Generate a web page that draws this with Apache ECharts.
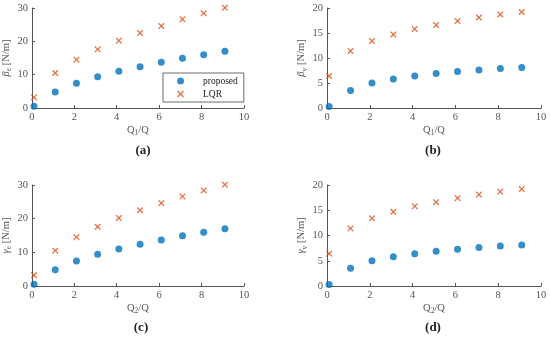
<!DOCTYPE html>
<html><head><meta charset="utf-8">
<script src="https://cdn.jsdelivr.net/npm/echarts@6/dist/echarts.min.js"></script>
<style>html,body{margin:0;padding:0;background:#fff}#c{width:550px;height:339px}</style>
</head><body><div id="c"></div>
<script>
const xRatio = [0.1, 1.1, 2.1, 3.1, 4.1, 5.1, 6.1, 7.1, 8.1, 9.1];
const betaE_proposed = [0.5, 4.8, 7.4, 9.4, 11.0, 12.4, 13.7, 14.9, 16.0, 17.0];
const betaE_LQR = [3.2, 10.5, 14.5, 17.6, 20.2, 22.5, 24.6, 26.6, 28.4, 30.1];
const betaV_proposed = [0.3, 3.5, 5.0, 5.8, 6.4, 6.9, 7.3, 7.6, 7.9, 8.1];
const betaV_LQR = [6.4, 11.4, 13.4, 14.7, 15.8, 16.6, 17.4, 18.1, 18.7, 19.2];
const gammaE_proposed = [0.5, 4.8, 7.4, 9.4, 11.0, 12.4, 13.7, 14.9, 16.0, 17.0];
const gammaE_LQR = [3.2, 10.5, 14.5, 17.6, 20.2, 22.5, 24.6, 26.6, 28.4, 30.1];
const gammaV_proposed = [0.3, 3.5, 5.0, 5.8, 6.4, 6.9, 7.3, 7.6, 7.9, 8.1];
const gammaV_LQR = [6.4, 11.4, 13.4, 14.7, 15.8, 16.6, 17.4, 18.1, 18.7, 19.2];
const xTicks = [0, 2, 4, 6, 8, 10];
const panelLabels = ['(a)', '(b)', '(c)', '(d)'];

const BLUE = '#0072BD', ORANGE = '#D95319';
const XPATH = 'path://M0,1.4L1.4,0L5,3.6L8.6,0L10,1.4L6.4,5L10,8.6L8.6,10L5,6.4L1.4,10L0,8.6L3.6,5Z';
const FONT = 'Liberation Serif';
const pairs = (ys) => ys.map((y, i) => [xRatio[i], y]);

const grids = [
  {left: 29, right: 306, top: 8, bottom: 231},
  {left: 327, right: 9, top: 8, bottom: 231},
  {left: 29, right: 306, top: 185, bottom: 53},
  {left: 327, right: 9, top: 185, bottom: 53}
];
const yMax = [30, 20, 30, 20];
const yInt = [10, 5, 10, 5];
const yNames = ['{g|β}{s|e} [N/m]', '{g|β}{s|v} [N/m]', '{g|γ}{s|e} [N/m]', '{g|γ}{s|v} [N/m]'];
const xNames = ['Q{s|1}/Q', 'Q{s|1}/Q', 'Q{s|2}/Q', 'Q{s|2}/Q'];
const data = [
  [betaE_proposed, betaE_LQR],
  [betaV_proposed, betaV_LQR],
  [gammaE_proposed, gammaE_LQR],
  [gammaV_proposed, gammaV_LQR]
];
const axisCommon = {
  axisLine: {show: true, lineStyle: {color: '#555', width: 1}},
  axisTick: {show: true, inside: true, length: 3, lineStyle: {color: '#555'}},
  splitLine: {show: false},
  axisLabel: {color: '#555', fontFamily: FONT, fontSize: 10.5, margin: 4}
};
const richName = {
  g: {fontFamily: FONT, fontStyle: 'italic', fontSize: 10.5, color: '#555'},
  s: {fontFamily: FONT, fontSize: 7.5, color: '#555', verticalAlign: 'bottom', padding: [6, 0, 0, 0]}
};
const xAxis = [], yAxis = [], series = [], title = [];
const labelPos = [[138, 139], [428, 139], [136, 316], [428, 316]];
for (let i = 0; i < 4; i++) {
  xAxis.push(Object.assign({}, axisCommon, {
    gridIndex: i, type: 'value', min: 0, max: 10, interval: 2,
    name: xNames[i], nameLocation: 'middle', nameGap: 15,
    nameTextStyle: {fontFamily: FONT, fontSize: 10.5, color: '#555', rich: richName}
  }));
  yAxis.push(Object.assign({}, axisCommon, {
    gridIndex: i, type: 'value', min: 0, max: yMax[i], interval: yInt[i],
    name: yNames[i], nameLocation: 'middle', nameGap: 16,
    nameTextStyle: {fontFamily: FONT, fontSize: 10.5, color: '#555', rich: richName}
  }));
  series.push({
    name: 'proposed', type: 'scatter', xAxisIndex: i, yAxisIndex: i, clip: false,
    data: pairs(data[i][0]), symbol: 'circle', symbolSize: 7,
    itemStyle: {color: BLUE}
  });
  series.push({
    name: 'LQR', type: 'scatter', xAxisIndex: i, yAxisIndex: i, clip: false,
    data: pairs(data[i][1]), symbol: XPATH, symbolSize: 6.5,
    itemStyle: {color: ORANGE}
  });
  title.push({
    text: panelLabels[i], left: labelPos[i][0], top: labelPos[i][1],
    textAlign: 'center',
    textStyle: {fontFamily: FONT, fontWeight: 'bold', fontSize: 13, color: '#222'}
  });
}
const option = {
  animation: false,
  backgroundColor: '#fff',
  title: title,
  grid: grids,
  xAxis: xAxis,
  yAxis: yAxis,
  series: series,
  legend: {
    left: 163, top: 73, orient: 'vertical',
    data: [{name: 'proposed', icon: 'circle'}, {name: 'LQR', icon: XPATH}],
    itemWidth: 7, itemHeight: 7, itemGap: 3,
    padding: [3, 6, 3, 14],
    borderColor: '#444', borderWidth: 0.8, backgroundColor: '#fff',
    textStyle: {fontFamily: FONT, fontSize: 9.5, color: '#222', padding: [0, 0, 0, 14]},
    selectedMode: false
  }
};
echarts.init(document.getElementById('c')).setOption(option);
</script>
</body></html>
